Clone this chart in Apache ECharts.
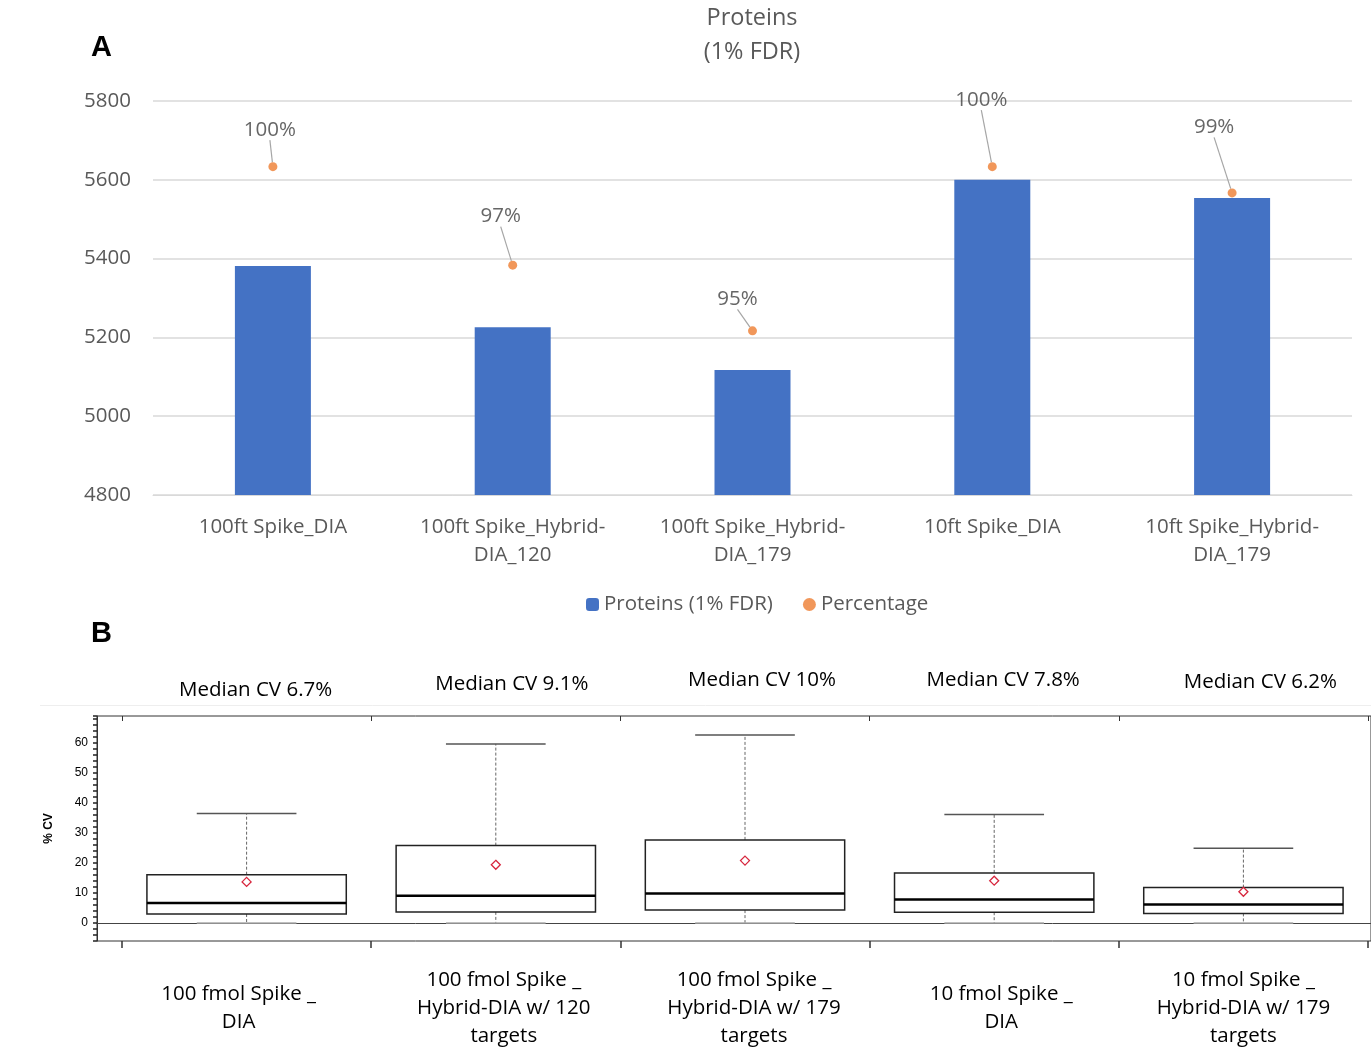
<!DOCTYPE html>
<html>
<head>
<meta charset="utf-8">
<script src="https://cdn.jsdelivr.net/npm/echarts@6/dist/echarts.min.js"></script>
<style>
  html, body { margin: 0; padding: 0; background: #fff; }
  #chart { width: 1371px; height: 1054px; }
</style>
</head>
<body>
<div id="chart"></div>
<script>
// ---- panel A data ----
var categoriesA = ['100ft Spike_DIA', '100ft Spike_Hybrid-\nDIA_120', '100ft Spike_Hybrid-\nDIA_179', '10ft Spike_DIA', '10ft Spike_Hybrid-\nDIA_179'];
var proteins = [5381, 5226, 5117, 5600, 5554];
var percentage = [1.0, 0.97, 0.95, 1.0, 0.992];

// ---- panel B data ----
var categoriesB = ['100 fmol Spike _\nDIA', '100 fmol Spike _\nHybrid-DIA w/ 120\ntargets', '100 fmol Spike _\nHybrid-DIA w/ 179\ntargets', '10 fmol Spike _\nDIA', '10 fmol Spike _\nHybrid-DIA w/ 179\ntargets'];
var medianCV = ['Median CV 6.7%', 'Median CV 9.1%', 'Median CV 10%', 'Median CV 7.8%', 'Median CV 6.2%'];
var cvMin = [0, 0, 0, 0, 0];
var cvQ1 = [3.0, 3.7, 4.3, 3.6, 3.2];
var cvMedian = [6.7, 9.1, 9.8, 7.8, 6.2];
var cvQ3 = [16.1, 25.8, 27.7, 16.7, 11.8];
var cvMax = [36.5, 59.7, 62.7, 36.2, 24.9];
var cvMean = [13.7, 19.4, 20.8, 14.1, 10.4];

// label nudges (style only)
var pctShift = [[-3, -37], [-12, -49], [-15, -32], [-11, -67], [-18, -66]];
var medianShift = [[9, 7], [16, 1], [17, -3], [9, -3], [17, -1]];
var catBShift = [-8, 8, 9, 7, 0];

var FONT = '"Open Sans", sans-serif';
var GREY = '#595959';

var boxData = categoriesB.map(function (c, i) {
    return [i, cvMin[i], cvQ1[i], cvMedian[i], cvQ3[i], cvMax[i], cvMean[i]];
});

function shiftPad(dx, dy) {
    return [dy > 0 ? 2 * dy : 0, dx < 0 ? -2 * dx : 0, dy < 0 ? -2 * dy : 0, dx > 0 ? 2 * dx : 0];
}

var medianRich = {};
medianShift.forEach(function (s, i) {
    medianRich['m' + i] = { fontFamily: FONT, fontSize: 20.5, color: '#000', padding: shiftPad(s[0], s[1]) };
});
var catBRich = {};
catBShift.forEach(function (d, i) {
    catBRich['c' + i] = { fontFamily: FONT, fontSize: 20.5, color: '#000', lineHeight: 28, padding: shiftPad(d, 0) };
});

function renderBox(params, api) {
    var i = api.value(0);
    var band = api.size([1, 0])[0];
    var half = band * 0.4;
    var cap = band * 0.2;
    var x = api.coord([i, 0])[0];
    var y = function (v) { return api.coord([i, v])[1]; };
    var yMin = y(api.value(1)), yQ1 = y(api.value(2)), yMed = y(api.value(3));
    var yQ3 = y(api.value(4)), yMax = y(api.value(5)), yMean = y(api.value(6));
    var dash = { stroke: '#666', lineWidth: 1, lineDash: [3, 2] };
    return {
        type: 'group',
        children: [
            { type: 'line', shape: { x1: x, y1: yQ3, x2: x, y2: yMax }, style: dash },
            { type: 'line', shape: { x1: x, y1: yQ1, x2: x, y2: yMin }, style: dash },
            { type: 'line', shape: { x1: x - cap, y1: yMax, x2: x + cap, y2: yMax }, style: { stroke: '#555', lineWidth: 1.5 } },
            { type: 'line', shape: { x1: x - cap, y1: yMin, x2: x + cap, y2: yMin }, style: { stroke: '#aaa', lineWidth: 1.5 } },
            { type: 'rect', shape: { x: x - half, y: yQ3, width: half * 2, height: yQ1 - yQ3 }, style: { fill: '#fff', stroke: '#222', lineWidth: 1.5 } },
            { type: 'line', shape: { x1: x - half, y1: yMed, x2: x + half, y2: yMed }, style: { stroke: '#000', lineWidth: 2.5 } },
            { type: 'polygon', shape: { points: [[x, yMean - 4.5], [x + 4.5, yMean], [x, yMean + 4.5], [x - 4.5, yMean]] }, style: { fill: '#fff', stroke: '#d7263d', lineWidth: 1.3 } }
        ]
    };
}

var myChart = echarts.init(document.getElementById('chart'));
var option = {
    backgroundColor: '#fff',
    animation: false,
    textStyle: { fontFamily: FONT },
    title: [{
        text: 'Proteins\n(1% FDR)',
        left: 747,
        textAlign: 'center',
        top: -4,
        textStyle: { fontFamily: FONT, fontSize: 23.5, fontWeight: 'normal', color: GREY, lineHeight: 34 }
    }, {
        text: 'A', left: 86, top: 28,
        textStyle: { fontFamily: 'Arial', fontSize: 29, fontWeight: 'bold', color: '#000' }
    }, {
        text: 'B', left: 86, top: 614,
        textStyle: { fontFamily: 'Arial', fontSize: 29, fontWeight: 'bold', color: '#000' }
    }],
    legend: {
        data: ['Proteins (1% FDR)', 'Percentage'],
        left: 581,
        top: 589,
        itemGap: 30,
        itemWidth: 13,
        itemHeight: 13,
        textStyle: { fontFamily: FONT, fontSize: 20.5, color: GREY }
    },
    graphic: [{
        type: 'line',
        shape: { x1: 40, y1: 705.5, x2: 1371, y2: 705.5 },
        style: { stroke: '#eeeeee', lineWidth: 1 }
    }],
    grid: [
        { left: 153, right: 19, top: 101, bottom: 559 },
        { left: 97, right: 0, top: 716, bottom: 113, show: true, borderColor: '#333', borderWidth: 1, backgroundColor: 'transparent' },
        { left: 122, right: 3, top: 716, bottom: 113 }
    ],
    xAxis: [{
        gridIndex: 0,
        type: 'category',
        data: categoriesA,
        axisLine: { lineStyle: { color: '#d9d9d9' } },
        axisTick: { show: false },
        axisLabel: { interval: 0, fontFamily: FONT, fontSize: 20.5, color: GREY, margin: 18, lineHeight: 28 }
    }, {
        gridIndex: 1,
        type: 'value',
        min: 0, max: 1,
        axisLine: { show: true, onZero: true, lineStyle: { color: '#444', width: 1 } },
        axisTick: { show: false },
        axisLabel: { show: false },
        splitLine: { show: false }
    }, {
        gridIndex: 2,
        type: 'category',
        position: 'bottom',
        data: categoriesB,
        axisLine: { show: false, onZero: false },
        axisTick: { show: true, length: 7, lineStyle: { color: '#333', width: 1.5 } },
        axisLabel: {
            interval: 0, margin: 67, verticalAlign: 'middle', lineHeight: 28,
            formatter: function (v, i) { return '{c' + i + '|' + v + '}'; },
            rich: catBRich
        }
    }, {
        gridIndex: 2,
        type: 'category',
        position: 'top',
        data: medianCV,
        axisLine: { show: false, onZero: false },
        axisTick: { show: true, inside: true, length: 5, lineStyle: { color: '#333' } },
        axisLabel: {
            interval: 0, margin: 33, verticalAlign: 'middle',
            formatter: function (v, i) { return '{m' + i + '|' + v + '}'; },
            rich: medianRich
        }
    }],
    yAxis: [{
        gridIndex: 0,
        type: 'value',
        min: 4800,
        max: 5800,
        interval: 200,
        axisLine: { show: false },
        axisTick: { show: false },
        axisLabel: { fontFamily: FONT, fontSize: 20.5, color: GREY, margin: 22, formatter: function (v) { return String(v); } },
        splitLine: { lineStyle: { color: '#d9d9d9', width: 1.5 } }
    }, {
        gridIndex: 0,
        type: 'value',
        min: 0.9,
        max: 1.02,
        show: false,
        splitLine: { show: false }
    }, {
        gridIndex: 1,
        type: 'value',
        min: -6,
        max: 69,
        show: false,
        splitLine: { show: false }
    }, {
        gridIndex: 2,
        type: 'value',
        min: -6,
        max: 69,
        interval: 2,
        offset: 25,
        name: '% CV',
        nameLocation: 'middle',
        nameRotate: 90,
        nameGap: 42,
        nameTextStyle: { fontFamily: 'Arial', fontSize: 12, fontWeight: 'bold', color: '#000' },
        axisLine: { show: true, lineStyle: { color: '#333' } },
        axisTick: { show: true, length: 4, lineStyle: { color: '#222', width: 1.5 } },
        axisLabel: {
            fontFamily: 'Arial', fontSize: 12, color: '#000', margin: 9,
            formatter: function (v) { return v % 10 === 0 && v >= 0 ? String(v) : ''; }
        },
        splitLine: { show: false }
    }],
    series: [{
        name: 'Proteins (1% FDR)',
        type: 'bar',
        xAxisIndex: 0,
        yAxisIndex: 0,
        data: proteins,
        barWidth: 76,
        color: '#4472c4'
    }, {
        name: 'Percentage',
        type: 'scatter',
        xAxisIndex: 0,
        yAxisIndex: 1,
        data: percentage,
        symbolSize: 9,
        color: '#ed7d31',
        z: 5,
        label: {
            show: true,
            position: 'inside',
            fontFamily: FONT,
            fontSize: 20.5,
            color: '#404040',
            formatter: function (p) { return Math.round(p.value * 100) + '%'; }
        },
        labelLayout: function (p) {
            var s = pctShift[p.dataIndex];
            return { dx: s[0], dy: s[1] };
        },
        labelLine: { show: true, lineStyle: { color: '#a6a6a6', width: 1.2 } }
    }, {
        name: 'CV',
        type: 'custom',
        xAxisIndex: 2,
        yAxisIndex: 3,
        data: boxData,
        encode: { x: 0, y: [1, 2, 3, 4, 5, 6] },
        renderItem: renderBox,
        z: 3
    }]
};
myChart.setOption(option);
</script>
</body>
</html>
